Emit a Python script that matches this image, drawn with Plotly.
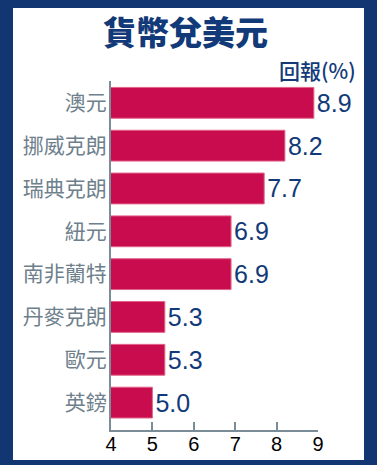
import plotly.graph_objects as go

categories = ["澳元", "挪威克朗", "瑞典克朗", "紐元", "南非蘭特", "丹麥克朗", "歐元", "英鎊"]
values = [8.9, 8.2, 7.7, 6.9, 6.9, 5.3, 5.3, 5.0]
value_labels = ["8.9", "8.2", "7.7", "6.9", "6.9", "5.3", "5.3", "5.0"]
x_ticks = [4, 5, 6, 7, 8, 9]

NAVY = "#123a78"
BAR = "#c80c4e"
GRAY = "#7a8c98"

W, H = 377, 465
L, R, T, B = 111, 59, 81, 35
pw, ph = W - L - R, H - T - B

def px(x):
    return (x - L) / pw

def py(y):
    return (H - B - y) / ph

fig = go.Figure()
fig.add_trace(go.Bar(
    y=categories, x=values, orientation="h",
    marker=dict(color=BAR, line=dict(color="#e2658a", width=1)),
    width=0.72,
    text=value_labels, textposition="outside", constraintext="none",
    textfont=dict(color=NAVY, size=25, family="Liberation Sans, Arial, sans-serif"),
    cliponaxis=False,
))

fig.add_shape(type="rect", xref="paper", yref="paper",
              x0=px(13), x1=px(364), y0=py(460), y1=py(8),
              fillcolor="white", line=dict(width=0), layer="below")

fig.add_annotation(text="貨幣兌美元", xref="paper", yref="paper",
                   x=px(185), y=py(31), xanchor="center", yanchor="middle",
                   showarrow=False,
                   font=dict(family="Noto Sans CJK TC", size=33, color=NAVY, weight=900))
fig.add_annotation(text="回報(%)", xref="paper", yref="paper",
                   x=px(358), y=py(70), xanchor="right", yanchor="middle",
                   showarrow=False,
                   font=dict(family="Noto Sans CJK TC", size=21, color=NAVY, weight=500))

fig.update_layout(
    width=W, height=H,
    margin=dict(l=L, r=R, t=T, b=B, autoexpand=False),
    paper_bgcolor="#123672", plot_bgcolor="white",
    showlegend=False,
    xaxis=dict(range=[4, 9], tickvals=x_ticks, ticks="inside", ticklen=8,
               tickwidth=2, tickcolor=GRAY, showline=True, linecolor=GRAY,
               linewidth=2, showgrid=False, zeroline=False, automargin=False,
               ticklabelstandoff=-5,
               tickfont=dict(family="Liberation Sans Narrow, Arial Narrow, sans-serif",
                             size=20, color="black")),
    yaxis=dict(range=[7.64, -0.51], showline=True, linecolor=GRAY, linewidth=2,
               showgrid=False, zeroline=False, ticks="", ticklabelstandoff=-2,
               automargin=False,
               tickfont=dict(family="Noto Sans CJK TC", size=21, color="#6e808c")),
)

fig.write_html("out.html", config={"displayModeBar": False},
               post_script="document.body.style.margin='0';document.body.style.overflow='hidden';")
